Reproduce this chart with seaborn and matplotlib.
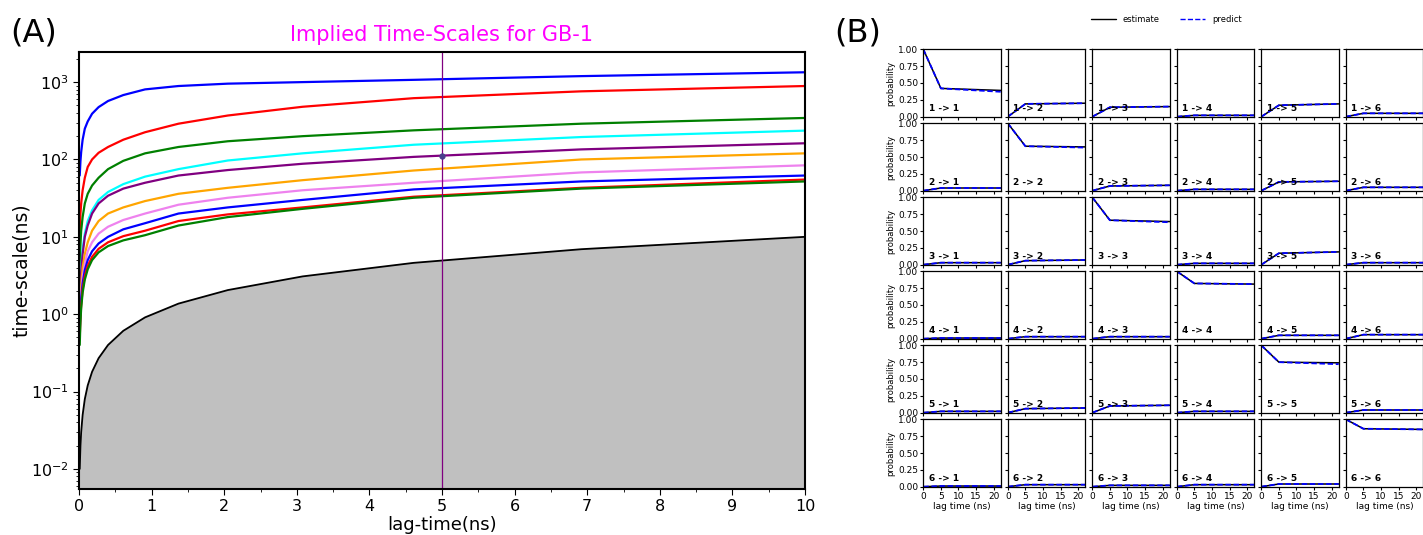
import numpy as np
import pandas as pd
import matplotlib
matplotlib.use("Agg")
import matplotlib.pyplot as plt
import seaborn as sns

# ---------------- data: implied timescales (ns) ----------------
lags = [0.01, 0.02, 0.03, 0.05, 0.08, 0.12, 0.18, 0.27, 0.40, 0.61, 0.91, 1.37, 2.05, 3.08, 4.61, 6.92, 10.0]
its_1 = [62, 95, 125, 180, 250, 310, 390, 475, 570, 680, 805, 890, 955, 1000, 1070, 1195, 1340]
its_2 = [12, 20, 27, 40, 58, 80, 100, 122, 145, 180, 225, 290, 370, 480, 620, 760, 890]
its_3 = [4, 8, 12, 18, 27, 36, 46, 58, 75, 96, 120, 145, 172, 200, 238, 290, 344]
its_4 = [1.2, 2.5, 4, 7, 11, 16, 22, 30, 38, 48, 60, 75, 97, 120, 155, 195, 236]
its_5 = [1.0, 2.2, 3.5, 6, 10, 14, 20, 27, 34, 42, 50, 62, 73, 88, 108, 135, 162]
its_6 = [0.8, 1.6, 2.4, 4, 6, 8.5, 12, 16, 20, 24, 29, 36, 43, 54, 72, 100, 120]
its_7 = [0.7, 1.3, 1.9, 3, 4.5, 6.5, 8.5, 11, 13.5, 16.5, 20, 26, 32, 40, 50, 68, 84]
its_8 = [0.6, 1.1, 1.6, 2.5, 3.7, 5, 6.5, 8.2, 10, 12.5, 15, 20, 24, 30, 41, 52, 62]
its_9 = [0.5, 0.9, 1.3, 2.1, 3.1, 4.2, 5.5, 7, 8.5, 10.2, 12, 16, 19.5, 24, 33, 43, 55]
its_10 = [0.4, 0.8, 1.2, 1.9, 2.8, 3.8, 5, 6.3, 7.6, 9, 10.5, 14, 18, 23, 32, 42, 52]
its_colors = ["blue", "red", "green", "cyan", "purple", "orange", "violet", "blue", "red", "green"]
chosen_lag = 5.0
chosen_its = 112

# ---------------- data: CK test ----------------
n_states = 6
ck_lags = [0, 5, 22]
# values for transition i+1 -> j+1 at lag 5 and at the last lag
est_5 = [[0.42, 0.19, 0.14, 0.02, 0.17, 0.05],
         [0.04, 0.66, 0.07, 0.02, 0.13, 0.05],
         [0.03, 0.06, 0.66, 0.02, 0.17, 0.03],
         [0.01, 0.03, 0.03, 0.82, 0.05, 0.06],
         [0.02, 0.06, 0.10, 0.02, 0.75, 0.04],
         [0.01, 0.03, 0.02, 0.03, 0.04, 0.86]]
est_end = [[0.39, 0.20, 0.15, 0.02, 0.19, 0.05],
           [0.04, 0.65, 0.08, 0.02, 0.14, 0.05],
           [0.03, 0.07, 0.64, 0.02, 0.19, 0.03],
           [0.01, 0.03, 0.03, 0.81, 0.05, 0.06],
           [0.02, 0.07, 0.11, 0.02, 0.74, 0.04],
           [0.01, 0.03, 0.02, 0.03, 0.04, 0.85]]
pred_end = [[0.37, 0.20, 0.15, 0.02, 0.19, 0.05],
            [0.04, 0.64, 0.08, 0.02, 0.14, 0.05],
            [0.03, 0.07, 0.63, 0.02, 0.19, 0.03],
            [0.01, 0.03, 0.03, 0.81, 0.05, 0.06],
            [0.02, 0.07, 0.11, 0.02, 0.72, 0.04],
            [0.01, 0.03, 0.02, 0.03, 0.04, 0.85]]

# ---------------- figure ----------------
sns.set_style("ticks")
plt.rcParams["font.family"] = ["DejaVu Sans"]
plt.rcParams["text.color"] = "black"
plt.rcParams["axes.labelcolor"] = "black"
plt.rcParams["xtick.color"] = "black"
plt.rcParams["ytick.color"] = "black"
fig = plt.figure(figsize=(14.23, 5.35), dpi=100)

W, H = 1423.0, 535.0
def rect(l, t, r, b):
    return [l / W, 1 - b / H, (r - l) / W, (b - t) / H]

# ---- panel A ----
ax = fig.add_axes(rect(79, 52, 805, 489))
ymin, ymax = 0.0055, 2450
all_its = [its_1, its_2, its_3, its_4, its_5, its_6, its_7, its_8, its_9, its_10]
for vals, c in zip(all_its, its_colors):
    sns.lineplot(x=lags, y=vals, color=c, lw=1.6, ax=ax, sort=False, legend=False)
ax.fill_between(lags, lags, ymin, color="silver", zorder=1)
sns.lineplot(x=lags, y=lags, color="black", lw=1.3, ax=ax, sort=False, legend=False)
ax.axvline(chosen_lag, color="purple", lw=0.9)
ax.plot([chosen_lag], [chosen_its], marker="o", ms=3.5, color="#4a3f8c")
ax.set_yscale("log")
ax.set_xlim(0, 10)
ax.set_ylim(ymin, ymax)
ax.set_xticks(range(0, 11))
ax.xaxis.set_minor_locator(matplotlib.ticker.MultipleLocator(0.5))
ax.yaxis.set_minor_locator(matplotlib.ticker.LogLocator(base=10, subs=np.arange(2, 10) * 1.0, numticks=20))
ax.yaxis.set_minor_formatter(matplotlib.ticker.NullFormatter())
ax.tick_params(labelsize=11.5, colors="black", length=4)
ax.tick_params(which="minor", length=2)
ax.set_xlabel("lag-time(ns)", fontsize=13, labelpad=1)
ax.set_ylabel("time-scale(ns)", fontsize=13.5, labelpad=0)
ax.set_title("Implied Time-Scales for GB-1", color="magenta", fontsize=15, pad=8)
for s in ax.spines.values():
    s.set_linewidth(1.5)
    s.set_color("black")
    s.set_visible(True)

fig.text(10 / W, 1 - 33 / H, "(A)", fontsize=23, va="center", ha="left", color="black")
fig.text(834 / W, 1 - 33 / H, "(B)", fontsize=23, va="center", ha="left", color="black")

# ---- panel B ----
left0, top0 = 923.3, 49.3
aw, ah = 77.4, 67.4
px, py = 84.5, 74.0
for i in range(n_states):
    for j in range(n_states):
        l = left0 + j * px
        t = top0 + i * py
        a = fig.add_axes(rect(l, t, l + aw, t + ah))
        start = 1.0 if i == j else 0.0
        est = [start, est_5[i][j], est_end[i][j]]
        pred = [start, est_5[i][j], pred_end[i][j]]
        sns.lineplot(x=ck_lags, y=est, color="black", lw=1.1, ax=a, sort=False, legend=False)
        sns.lineplot(x=ck_lags, y=pred, color="blue", lw=1.3, ax=a, sort=False, legend=False)
        a.lines[-1].set_linestyle((0, (3, 1.5)))
        a.set_xlim(0, 22)
        a.set_ylim(0, 1)
        a.set_xticks([0, 5, 10, 15, 20])
        a.set_yticks([0, 0.25, 0.5, 0.75, 1.0])
        a.tick_params(labelsize=6.5, length=2.5, width=0.8, pad=1, colors="black")
        for s in a.spines.values():
            s.set_linewidth(0.9)
            s.set_color("black")
        a.text(0.07, 0.06, f"{i + 1} -> {j + 1}", transform=a.transAxes,
               fontsize=6.5, fontweight="bold", va="bottom")
        if j == 0:
            a.set_yticklabels(["0.00", "0.25", "0.50", "0.75", "1.00"])
            a.set_ylabel("probability", fontsize=6, labelpad=2)
        else:
            a.set_yticklabels([])
        if i == n_states - 1:
            a.set_xlabel("lag time (ns)", fontsize=6.5, labelpad=1)
        else:
            a.set_xticklabels([])

handles = [matplotlib.lines.Line2D([], [], color="black", lw=1.0),
           matplotlib.lines.Line2D([], [], color="blue", lw=1.0, ls="--")]
fig.legend(handles, ["estimate", "predict"], loc="center", bbox_to_anchor=(1166 / W, 1 - 19 / H),
           ncol=2, frameon=False, fontsize=6, handlelength=3, columnspacing=2.5)

fig.savefig("out.png", dpi=100)
